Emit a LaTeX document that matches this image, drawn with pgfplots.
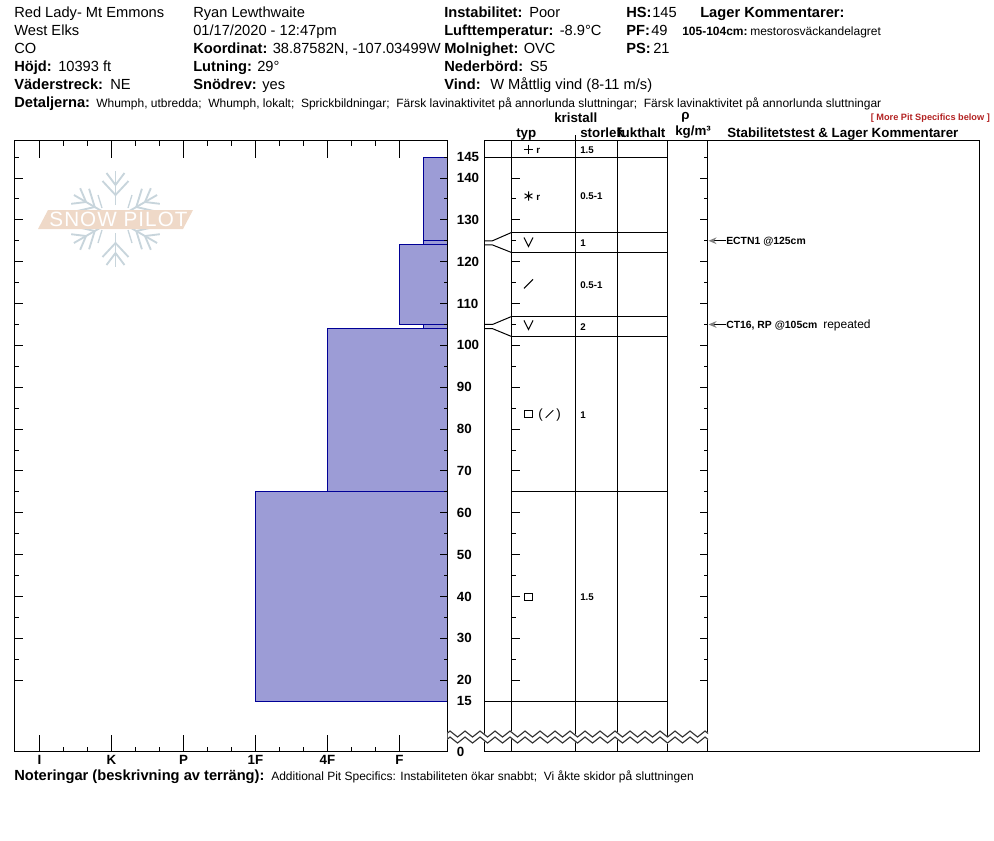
\documentclass[border=0pt]{standalone}
\usepackage{fontspec}
\setmainfont{Liberation Sans}
\usepackage{pgfplots}
\pgfplotsset{compat=1.18}
\usetikzlibrary{arrows.meta}

\definecolor{barfill}{RGB}{156,156,214}
\definecolor{barline}{RGB}{0,0,150}
\definecolor{flake}{RGB}{200,213,220}
\definecolor{banner}{RGB}{239,217,200}
\definecolor{morered}{RGB}{178,34,34}

\pgfdeclareplotmark{vee}{\pgfpathmoveto{\pgfqpoint{-\pgfplotmarksize}{\pgfplotmarksize}}
  \pgfpathlineto{\pgfqpoint{0pt}{-\pgfplotmarksize}}
  \pgfpathlineto{\pgfqpoint{\pgfplotmarksize}{\pgfplotmarksize}}\pgfusepathqstroke}
\pgfdeclareplotmark{slant}{\pgfpathmoveto{\pgfqpoint{-\pgfplotmarksize}{-\pgfplotmarksize}}
  \pgfpathlineto{\pgfqpoint{\pgfplotmarksize}{\pgfplotmarksize}}\pgfusepathqstroke}

% all three panels share this vertical scale
\pgfplotsset{
  cmscale/.style={ymin=2.95, ymax=148.96, scale only axis, height=458.25pt,
    axis line style={line width=.75pt}, tick style={line width=.75pt,black},
    every axis plot/.append style={line width=.75pt}},
  ticks10/.style={ytick={20,30,...,140}, minor ytick={25,35,...,145}, 
    major tick length=6pt, minor tick length=3pt}
}

\newcommand\T[3]{\node[anchor=base west,inner sep=0pt] at (#1,#2) {#3};}
\newcommand\fa{\fontsize{11}{13}\selectfont}
\newcommand\fb{\fontsize{11}{13}\selectfont\bfseries}
\newcommand\fs{\fontsize{9}{11}\selectfont}
\newcommand\ft{\fontsize{7.3}{9}\selectfont\bfseries}
\newcommand\fe{\fontsize{7.8}{9}\selectfont\bfseries}

\begin{document}
\begin{tikzpicture}

% hardness profile
\begin{axis}[cmscale, at={(10.875pt,-105.375pt)}, anchor=north west, width=324.75pt,
  xmin=0.653, xmax=6.667, xtick={1,2,3,4,5,6}, minor x tick num=2,
  xtick pos=both, xticklabels={I,K,P,1F,4F,F}, major tick length=12.75pt, minor tick length=3.75pt,
  xticklabel style={font=\fontsize{10}{12}\selectfont\bfseries, yshift=.5pt},
  ytick=\empty]
\addplot[fill=barfill, draw=barline] coordinates {(6.333,145) (6.667,145) (6.667,125) (6.333,125)} --cycle;
\addplot[fill=barfill, draw=barline] coordinates {(6.333,125) (6.667,125) (6.667,124) (6.333,124)} --cycle;
\addplot[fill=barfill, draw=barline] coordinates {(6,124) (6.667,124) (6.667,105) (6,105)} --cycle;
\addplot[fill=barfill, draw=barline] coordinates {(6.333,105) (6.667,105) (6.667,104) (6.333,104)} --cycle;
\addplot[fill=barfill, draw=barline] coordinates {(5,104) (6.667,104) (6.667,65) (5,65)} --cycle;
\addplot[fill=barfill, draw=barline] coordinates {(4,65) (6.667,65) (6.667,15) (4,15)} --cycle;
\end{axis}

% its height ticks and labels
\begin{axis}[cmscale, ticks10, at={(10.875pt,-105.375pt)}, anchor=north west, width=324.75pt,
  xmin=0.653, xmax=6.667, xtick=\empty,
  yticklabel pos=right,
  yticklabels={20,30,40,50,60,70,80,90,100,110,120,130,140},
  extra y ticks={2.95,15,145}, extra y tick labels={0,15,145},
  extra y tick style={major tick length=0pt, yticklabel pos=right},
  yticklabel style={font=\fontsize{10}{12}\selectfont\bfseries, anchor=west, xshift=3.5pt}]
\end{axis}

% pit table
\begin{axis}[cmscale, at={(363.375pt,-105.375pt)}, anchor=north west, width=371.25pt,
  xmin=484, xmax=979, xtick=\empty, ytick=\empty, clip=false]
\addplot[black] coordinates {(575,2.95) (575,148.96)};
\addplot[black] coordinates {(617,2.95) (617,148.96)};
\addplot[black] coordinates {(667,2.95) (667,148.96)};
% layer boundaries
\addplot[black] coordinates {(484,145) (667,145)};
\addplot[black] coordinates {(511,126.98) (667,126.98)};
\addplot[black] coordinates {(511,122.2) (667,122.2)};
\addplot[black] coordinates {(511,106.9) (667,106.9)};
\addplot[black] coordinates {(511,102.13) (667,102.13)};
\addplot[black] coordinates {(511,65) (667,65)};
\addplot[black] coordinates {(484,15) (667,15)};
% connectors from true height to table row
\addplot[black] coordinates {(484,125) (492,125) (511,126.98)};
\addplot[black] coordinates {(484,124) (492,124) (511,122.2)};
\addplot[black] coordinates {(484,105) (492,105) (511,106.9)};
\addplot[black] coordinates {(484,104) (492,104) (511,102.13)};
% grain forms
\addplot[only marks, mark=+, mark size=3.4pt, black] coordinates {(528,146.9)};
\addplot[only marks, mark=asterisk, mark size=3.4pt, black] coordinates {(528,135.7)};
\addplot[only marks, mark=vee, mark size=3.4pt, black] coordinates {(528,124.7) (528,104.9)};
\addplot[only marks, mark=slant, mark size=3.4pt, black] coordinates {(528,114.7)};
\addplot[only marks, mark=slant, mark size=2.9pt, black] coordinates {(549,83.6)};
\addplot[only marks, mark=square, mark size=2.7pt, black] coordinates {(528,83.6) (528,39.9)};
% test arrows
\addplot[black, {Stealth[gray,length=6pt,width=5pt]}-] coordinates {(708,125) (725,125)};
\addplot[black, {Stealth[gray,length=6pt,width=5pt]}-] coordinates {(708,105) (725,105)};
\end{axis}

% ticks on the grain columns
\begin{axis}[cmscale, ticks10, at={(383.625pt,-105.375pt)}, anchor=north west, width=147pt,
  xmin=511, xmax=707, xtick=\empty, yticklabels={}]
\end{axis}

\begin{scope}[x=0.75pt,y=-0.75pt]
\path[use as bounding box] (0,0) rectangle (994,840);

% logo
\begin{scope}
\foreach \a in {30,90,150,210,270,330}{
  \begin{scope}[shift={(115.5,219)},rotate=\a,flake,line width=1.4pt]
  \draw (14,0) -- (48,0);
  \draw (34,0) -- (46,9) (34,0) -- (46,-9);
  \draw (24,0) -- (38,13) (24,0) -- (38,-13);
  \end{scope}
}
\draw[flake,line width=1pt] (98,195) -- (102,208) (132,195) -- (128,208) (98,243) -- (102,230) (132,243) -- (128,230);
\fill[banner] (48,210) -- (193,210) -- (183,229) -- (38,229) -- cycle;
\node[white,inner sep=0pt,font=\fontsize{15.5}{17}\selectfont\addfontfeature{LetterSpace=5}] at (118.5,219.5) {SNOW PILOT};
\end{scope}

% header block
\T{14}{17}{\fa Red Lady- Mt Emmons}
\T{14}{35}{\fa West Elks}
\T{14}{53}{\fa CO}
\T{14}{71}{\fb Höjd:}
\T{58}{71}{\fa 10393 ft}
\T{14}{89}{\fb Väderstreck:}
\T{110}{89}{\fa NE}
\T{14}{107}{\fb Detaljerna:}
\T{96}{107}{\fs Whumph, utbredda;\ \ Whumph, lokalt;\ \ Sprickbildningar;\ \ Färsk lavinaktivitet på annorlunda sluttningar;\ \ Färsk lavinaktivitet på annorlunda sluttningar}

\T{193}{17}{\fa Ryan Lewthwaite}
\T{193}{35}{\fa 01/17/2020 - 12:47pm}
\T{193}{53}{\fb Koordinat:}
\T{272.5}{53}{\fa 38.87582N, -107.03499W}
\T{193}{71}{\fb Lutning:}
\T{257}{71}{\fa 29°}
\T{193}{89}{\fb Snödrev:}
\T{262}{89}{\fa yes}

\T{444}{17}{\fb Instabilitet:}
\T{529}{17}{\fa Poor}
\T{444}{35}{\fb Lufttemperatur:}
\T{559.5}{35}{\fa -8.9°C}
\T{444}{53}{\fb Molnighet:}
\T{523.5}{53}{\fa OVC}
\T{444}{71}{\fb Nederbörd:}
\T{529.5}{71}{\fa S5}
\T{444}{89}{\fb Vind:}
\T{490}{89}{\fa W Måttlig vind (8-11 m/s)}

\T{626}{17}{\fb HS:}
\T{652}{17}{\fa 145}
\T{626}{35}{\fb PF:}
\T{651}{35}{\fa 49}
\T{626}{53}{\fb PS:}
\T{653}{53}{\fa 21}
\T{700}{17}{\fb Lager Kommentarer:}
\T{682}{35}{\fs\bfseries 105-104cm:}
\T{750}{35}{\fs mestorosväckandelagret}
\T{870.5}{120}{\fontsize{6.9}{8}\selectfont\bfseries\color{morered}[ More Pit Specifics below ]}

% column titles
\T{554}{122}{\fontsize{10}{12}\selectfont\bfseries kristall}
\T{516}{137}{\fontsize{10}{12}\selectfont\bfseries typ}
\T{580}{137}{\fontsize{10}{12}\selectfont\bfseries storlek}
\T{617}{137}{\fontsize{10}{12}\selectfont\bfseries fukthalt}
\T{681}{119}{\fontsize{10}{12}\selectfont\bfseries ρ}
\T{675}{135}{\fontsize{10}{12}\selectfont\bfseries kg/m³}
\T{727}{137}{\fontsize{10}{12}\selectfont\bfseries Stabilitetstest \& Lager Kommentarer}
\draw[line width=.75pt] (575.5,135) -- (575.5,140);

% size column and grain suffixes
\T{580}{153}{\ft 1.5}
\T{580}{199}{\ft 0.5-1}
\T{580}{246}{\ft 1}
\T{580}{288}{\ft 0.5-1}
\T{580}{330}{\ft 2}
\T{580}{418}{\ft 1}
\T{580}{600}{\ft 1.5}
\T{536}{153}{\ft r}
\T{536}{200}{\ft r}
\T{538}{418.5}{\fontsize{10}{12}\selectfont (}
\T{556}{418.5}{\fontsize{10}{12}\selectfont )}

% test results
\T{726}{244}{\fe ECTN1 @125cm}
\T{726}{328}{\fe CT16, RP @105cm}
\T{823}{328}{\fs repeated}

% footer
\T{14}{780}{\fb Noteringar (beskrivning av terräng):}
\T{271}{780}{\fs Additional Pit Specifics: Instabiliteten ökar snabbt;\ \ Vi åkte skidor på sluttningen}

% axis break
\begin{scope}
\clip (447.5,725) rectangle (708,750);
\draw[white,line width=4.5pt] (435,734) foreach \k in {0,...,19} { -- ({435+15*\k},734) -- ({442.5+15*\k},740) } ;
\draw[black!80,line width=.85pt] (435,731) foreach \k in {0,...,19} { -- ({435+15*\k},731) -- ({442.5+15*\k},737) } ;
\draw[black!80,line width=.85pt] (435,737) foreach \k in {0,...,19} { -- ({435+15*\k},737) -- ({442.5+15*\k},743) } ;
\end{scope}
\end{scope}
\end{tikzpicture}
\end{document}
